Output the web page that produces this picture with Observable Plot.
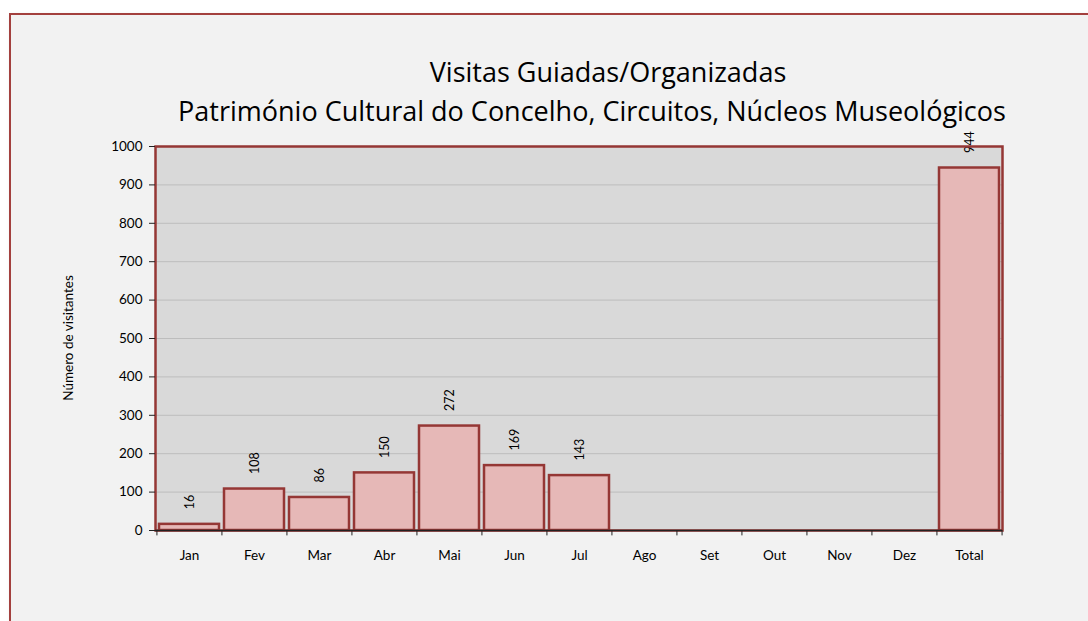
<!DOCTYPE html>
<html>
<head>
<meta charset="utf-8">
<script src="https://cdn.jsdelivr.net/npm/d3@7"></script>
<script src="https://cdn.jsdelivr.net/npm/@observablehq/plot@0.6"></script>
<style>
  html, body { margin: 0; padding: 0; background: #ffffff; width: 1088px; height: 621px; overflow: hidden; }
  #frame { position: absolute; left: 9px; top: 13px; width: 1100px; height: 640px; background: #f2f2f2;
           border: 2px solid #a3403e; box-shadow: 3px 3px 5px rgba(0,0,0,0.25); }
  .tl { position: absolute; left: 0; width: 1184px; text-align: center; white-space: nowrap;
        font-family: "Open Sans", Lato, sans-serif; font-size: 27px; line-height: 39px; color: #000; }
  #t1 { top: 52px; left: 16px; }
  #t2 { top: 91px; }
  #ylab { position: absolute; left: 68px; top: 338px; transform: translate(-50%, -50%) rotate(-90deg);
          font-family: Lato, "Open Sans", sans-serif; font-size: 13.5px; white-space: nowrap; color: #000; }
  #chart { position: absolute; left: 0; top: 130px; }
</style>
</head>
<body>
<div id="frame"></div>
<div class="tl" id="t1">Visitas Guiadas/Organizadas</div>
<div class="tl" id="t2">Património Cultural do Concelho, Circuitos, Núcleos Museológicos</div>
<div id="chart"></div>
<div id="ylab">Número de visitantes</div>
<script>
const months = ["Jan","Fev","Mar","Abr","Mai","Jun","Jul","Ago","Set","Out","Nov","Dez","Total"];
const visitors = [16, 108, 86, 150, 272, 169, 143, 0, 0, 0, 0, 0, 944];
const yTicks = [0,100,200,300,400,500,600,700,800,900,1000];

const data = months.map((m, i) => ({month: m, value: visitors[i]}));

const W = 1088, H = 491, mL = 155, mR = 86, mT = 16, mB = 91;
const step = (W - mL - mR) / months.length;

const chart = Plot.plot({
  width: W,
  height: H,
  marginLeft: mL,
  marginRight: mR,
  marginTop: mT,
  marginBottom: mB,
  style: {background: "transparent", fontFamily: "Lato, 'Open Sans', sans-serif", color: "#000"},
  x: {domain: months, paddingInner: 0.08, paddingOuter: 0.04, label: null},
  y: {domain: [0, 1000], label: null},
  marks: [
    Plot.frame({fill: "#d9d9d9", stroke: "none"}),
    Plot.gridY(yTicks, {stroke: "#bdbdbd", strokeOpacity: 1, strokeWidth: 1}),
    Plot.barY(data, {x: "month", y: "value", fill: "#e6b8b7", stroke: "#953735", strokeWidth: 2.5}),
    Plot.text(data.filter(d => d.value > 0), {x: "month", y: "value", text: d => String(d.value),
      rotate: -90, textAnchor: "start", lineAnchor: "middle", dy: -15, fontSize: 12.5, fill: "#000"}),
    Plot.frame({stroke: "#953735", strokeWidth: 2.5}),
    Plot.ruleY([0], {stroke: "#222", strokeWidth: 1.5}),
    Plot.ruleX(months, {x: d => d, dx: -step / 2, y1: 0, y2: -14, stroke: "#222", strokeWidth: 1}),
    Plot.ruleX(["Total"], {x: d => d, dx: step / 2, y1: 0, y2: -14, stroke: "#222", strokeWidth: 1}),
    Plot.axisY(yTicks, {tickSize: 6, tickPadding: 7, fontSize: 13.5, stroke: "#222",
      tickFormat: d => String(d), label: null}),
    Plot.axisX({tickSize: 0, tickPadding: 20, fontSize: 13.5, label: null})
  ]
});
document.getElementById("chart").appendChild(chart);
</script>
</body>
</html>
